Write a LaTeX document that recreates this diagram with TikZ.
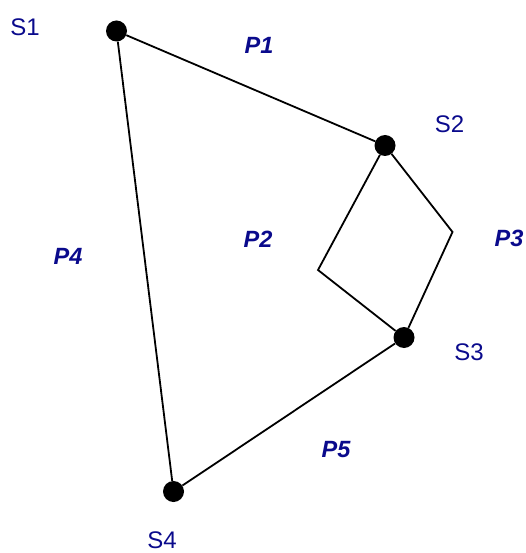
\documentclass[tikz,border=0pt]{standalone}
\usepackage{fontspec}
\setmainfont{Liberation Sans}
\definecolor{lab}{RGB}{10,10,140}
\begin{document}
\begin{tikzpicture}[x=1pt,y=-1pt,
  dot/.style={circle,fill=black,inner sep=0pt,minimum size=21pt},
  sname/.style={text=lab,font=\fontsize{24}{26}\selectfont,inner sep=0pt},
  pname/.style={text=lab,font=\fontsize{23.5}{26}\selectfont\bfseries\itshape,inner sep=0pt},
  edge/.style={line width=1.8pt,black}]
\useasboundingbox (0,0) rectangle (526,553);
\node[dot] (s1) at (116.5,31) {};
\node[dot] (s2) at (385,145.5) {};
\node[dot] (s3) at (404,337.5) {};
\node[dot] (s4) at (173.5,491.5) {};
\coordinate (b2) at (318,270);
\coordinate (b3) at (452.5,232);
\draw[edge] (s1) -- (s2);
\draw[edge] (s1) -- (s4);
\draw[edge] (s2) -- (b2) -- (s3);
\draw[edge] (s2) -- (b3) -- (s3);
\draw[edge] (s3) -- (s4);
\node[sname] (l1) at (25,27) {S1};
\node[sname] (l2) at (449.5,124.5) {S2};
\node[sname] (l3) at (469,352.5) {S3};
\node[sname] (l4) at (162,540) {S4};
\node[pname] (p1) at (259,45.5) {P1};
\node[pname] (p2) at (258,239) {P2};
\node[pname] (p3) at (509,238.5) {P3};
\node[pname] (p4) at (68,256) {P4};
\node[pname] (p5) at (336,449.5) {P5};
\end{tikzpicture}
\end{document}
